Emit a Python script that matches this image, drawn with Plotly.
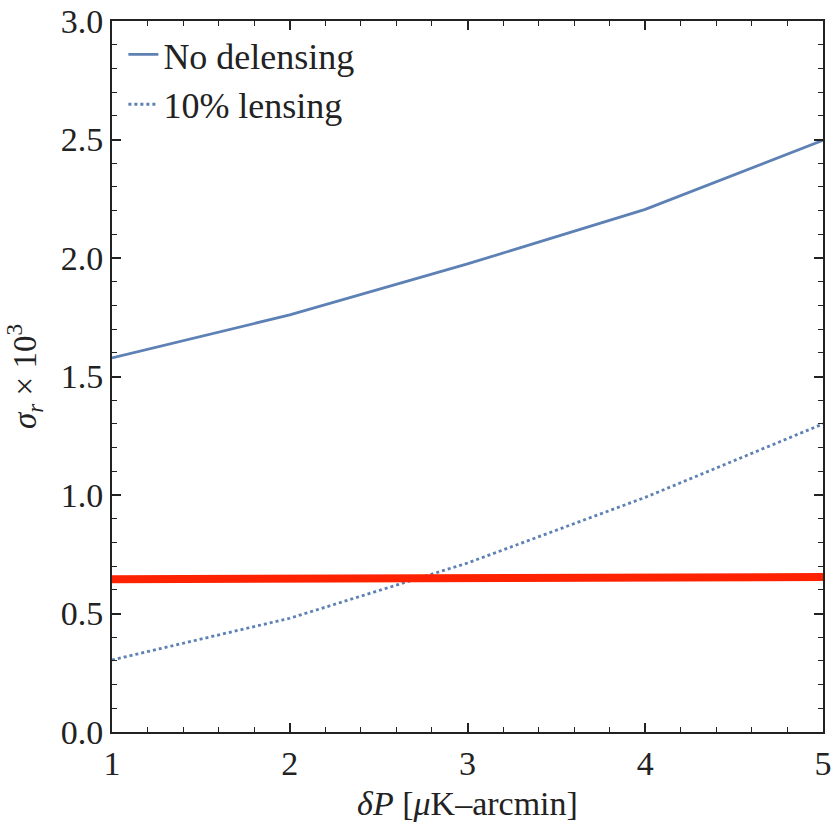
import plotly.graph_objects as go

dP = [1, 2, 3, 4, 5]
no_delensing = [1.578, 1.76, 1.975, 2.205, 2.497]
lensing_10 = [0.304, 0.48, 0.713, 0.99, 1.30]
red_x = [1, 5]
red_y = [0.645, 0.654]

fig = go.Figure()
fig.add_trace(go.Scatter(x=dP, y=no_delensing, mode="lines", name="No delensing",
                         line=dict(color="#5e81b5", width=2.8)))
fig.add_trace(go.Scatter(x=dP, y=lensing_10, mode="lines", name="10% lensing",
                         line=dict(color="#5e81b5", width=2.8, dash="dot")))
fig.add_trace(go.Scatter(x=red_x, y=red_y, mode="lines", showlegend=False,
                         line=dict(color="#ff2200", width=8)))

font_family = "Liberation Serif, DejaVu Serif, serif"
axis_common = dict(showline=True, linecolor="#222", linewidth=1.8, mirror="ticks",
                   ticks="inside", ticklen=9, tickwidth=1.6, tickcolor="#222",
                   showgrid=False, zeroline=False, automargin=False,
                   tickfont=dict(family=font_family, size=34, color="#222"))

fig.update_layout(
    width=832, height=829,
    margin=dict(l=112, r=9, t=21, b=97),
    plot_bgcolor="white", paper_bgcolor="white",
    font=dict(family=font_family, color="#222"),
    legend=dict(x=0.016, y=0.995, xanchor="left", yanchor="top",
                bgcolor="rgba(0,0,0,0)", font=dict(family=font_family, size=36, color="#222")),
    xaxis=dict(range=[1, 5], dtick=1,
               minor=dict(ticks="inside", dtick=0.2, ticklen=5, tickwidth=1.3, tickcolor="#222"),
               title=dict(text="<i>δP</i> [<i>μ</i>K–arcmin]", font=dict(family=font_family, size=34), standoff=10),
               **axis_common),
    yaxis=dict(range=[0, 3], dtick=0.5, tickformat=".1f",
               minor=dict(ticks="inside", dtick=0.1, ticklen=5, tickwidth=1.3, tickcolor="#222"),
               title=dict(text="<i>σ<sub>r</sub></i> × 10<sup>3</sup>", font=dict(family=font_family, size=33), standoff=14),
               **axis_common),
)

fig.write_html("out.html", config={"displayModeBar": False},
               post_script="document.body.style.margin='0';document.body.style.overflow='hidden';")
